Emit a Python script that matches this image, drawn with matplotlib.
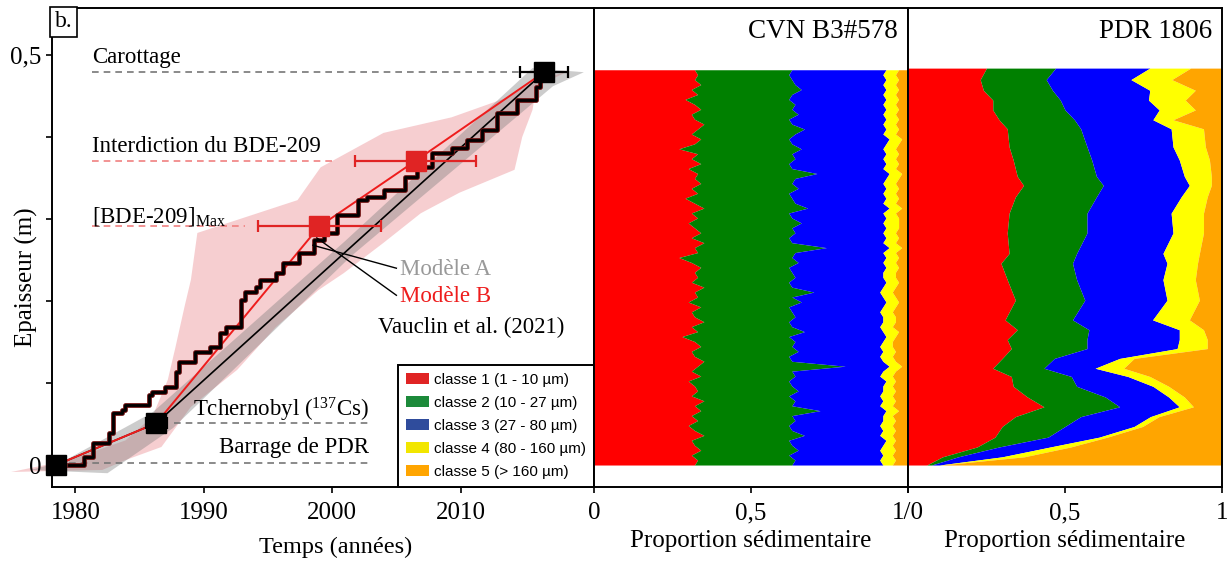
import numpy as np
import matplotlib
matplotlib.use('Agg')
import matplotlib.pyplot as plt
from matplotlib.patches import Patch

plt.rcParams['font.family'] = ['Liberation Serif', 'DejaVu Serif']
plt.rcParams['mathtext.fontset'] = 'custom'
plt.rcParams['mathtext.rm'] = 'Liberation Serif'
plt.rcParams['mathtext.it'] = 'Liberation Serif:italic'

# --- left panel: age models (year, depth in m) ---
anchor_names = ['Barrage de PDR', 'Tchernobyl', '[BDE-209]Max', 'Interdiction', 'Carottage']
anchor_year = [1978.5, 1986.3, 1999.0, 2006.5, 2016.5]
anchor_depth = [0.0, 0.051, 0.291, 0.371, 0.479]
anchor_err = [0.0, 0.8, 4.8, 4.7, 1.9]

modelA_year = [1978.5, 1986.3, 2016.5]
modelA_depth = [0.0, 0.051, 0.479]

# envelope of model B (pink) - up the left side then down the right side
envB_year = [1975.0, 1979.5, 1983.9, 1986.0, 1987.2, 1987.8, 1988.5, 1989.0, 1989.5, 1997.3,
             1999.1, 2004.0, 2009.3, 2013.8, 2015.9, 2018.2,
             2015.9, 2015.6, 2014.8, 2014.2, 2009.9, 2006.9, 2004.0, 2000.9, 1998.9, 1995.6,
             1992.6, 1989.0, 1986.7, 1983.9, 1982.1]
envB_depth = [-0.0085, 0.006, 0.030, 0.059, 0.104, 0.144, 0.193, 0.226, 0.283, 0.323,
              0.363, 0.405, 0.424, 0.449, 0.470, 0.479,
              0.461, 0.433, 0.400, 0.360, 0.332, 0.307, 0.271, 0.234, 0.213, 0.168,
              0.116, 0.071, 0.022, 0.006, -0.006]

# envelope of model A (grey)
envA_year = [1976.5, 1979.0, 1986.0, 2001.0, 2015.6, 2019.6, 2017.2, 2001.5, 1987.6, 1982.5]
envA_depth = [-0.006, 0.004, 0.064, 0.273, 0.484, 0.479, 0.462, 0.255, 0.045, -0.010]

# Vauclin et al. (2021) staircase
vauclin_year = [1979.5, 1980.7, 1981.4, 1982.1, 1982.6, 1982.9, 1983.6, 1983.9, 1985.7, 1986.0,
                1987.0, 1987.8, 1988.1, 1989.3, 1990.5, 1991.3, 1991.7, 1992.9, 1993.2, 1994.1,
                1994.4, 1995.6, 1996.2, 1997.4, 1998.6, 1999.4, 2000.4, 2002.0, 2002.7, 2004.0,
                2005.7, 2006.6, 2007.8, 2009.3, 2010.5, 2011.7, 2012.8, 2014.4, 2015.9, 2016.2]
vauclin_depth = [0.0, 0.010, 0.027, 0.027, 0.039, 0.063, 0.067, 0.073, 0.085, 0.089,
                 0.095, 0.113, 0.126, 0.138, 0.144, 0.161, 0.168, 0.201, 0.211, 0.217,
                 0.226, 0.234, 0.246, 0.259, 0.274, 0.283, 0.305, 0.323, 0.327, 0.335,
                 0.351, 0.363, 0.380, 0.387, 0.396, 0.409, 0.429, 0.445, 0.461, 0.470]

# --- grain size classes ---
class_labels = ['classe 1 (1 - 10 µm)', 'classe 2 (10 - 27 µm)', 'classe 3 (27 - 80 µm)',
                'classe 4 (80 - 160 µm)', 'classe 5 (> 160 µm)']
fill_colors = ['#ff0000', '#008000', '#0000ff', '#ffff00', '#ffa500']
legend_colors = ['#e02424', '#1c8a3a', '#2f4c9c', '#f2e600', '#ffa500']

# CVN B3#578: cumulative proportion at the top of classes 1-4, bottom to top
cvn_top1 = [0.32, 0.33, 0.31, 0.34, 0.32, 0.31, 0.35, 0.32, 0.30, 0.33,
            0.31, 0.34, 0.32, 0.35, 0.31, 0.33, 0.32, 0.30, 0.34, 0.31,
            0.33, 0.35, 0.32, 0.31, 0.34, 0.32, 0.28, 0.33, 0.31, 0.35,
            0.32, 0.31, 0.34, 0.30, 0.33, 0.32, 0.35, 0.31, 0.33, 0.32,
            0.34, 0.31, 0.27, 0.33, 0.32, 0.35, 0.31, 0.34, 0.32, 0.30,
            0.33, 0.31, 0.35, 0.32, 0.29, 0.33, 0.31, 0.34, 0.32, 0.33,
            0.30, 0.34, 0.31, 0.33, 0.27, 0.32, 0.34, 0.31, 0.33, 0.35,
            0.32, 0.31, 0.34, 0.32, 0.29, 0.33, 0.31, 0.34, 0.32, 0.33, 0.32]
cvn_top2 = [0.63, 0.64, 0.62, 0.65, 0.63, 0.62, 0.67, 0.63, 0.62, 0.64,
            0.63, 0.72, 0.63, 0.64, 0.62, 0.65, 0.63, 0.62, 0.64, 0.63,
            0.80, 0.63, 0.62, 0.65, 0.63, 0.64, 0.62, 0.67, 0.63, 0.62,
            0.64, 0.63, 0.62, 0.66, 0.63, 0.70, 0.63, 0.62, 0.64, 0.63,
            0.62, 0.65, 0.63, 0.64, 0.74, 0.63, 0.62, 0.64, 0.63, 0.66,
            0.63, 0.62, 0.68, 0.64, 0.63, 0.62, 0.65, 0.63, 0.64, 0.71,
            0.63, 0.62, 0.64, 0.63, 0.66, 0.63, 0.62, 0.64, 0.67, 0.63,
            0.62, 0.65, 0.63, 0.64, 0.62, 0.63, 0.66, 0.64, 0.63, 0.62, 0.63]
cvn_top3 = [0.92, 0.91, 0.92, 0.91, 0.92, 0.93, 0.91, 0.92, 0.91, 0.92,
            0.92, 0.93, 0.91, 0.92, 0.91, 0.92, 0.92, 0.93, 0.91, 0.92,
            0.94, 0.92, 0.91, 0.92, 0.91, 0.92, 0.93, 0.92, 0.91, 0.92,
            0.92, 0.91, 0.92, 0.93, 0.92, 0.91, 0.92, 0.93, 0.92, 0.92,
            0.93, 0.92, 0.93, 0.92, 0.94, 0.92, 0.93, 0.92, 0.93, 0.92,
            0.93, 0.92, 0.94, 0.92, 0.93, 0.92, 0.93, 0.92, 0.93, 0.94,
            0.92, 0.93, 0.92, 0.93, 0.92, 0.93, 0.94, 0.92, 0.93, 0.92,
            0.93, 0.92, 0.93, 0.92, 0.93, 0.92, 0.93, 0.92, 0.93, 0.92, 0.93]
cvn_top4 = [0.95, 0.96, 0.95, 0.96, 0.95, 0.96, 0.95, 0.96, 0.95, 0.96,
            0.95, 0.97, 0.95, 0.96, 0.95, 0.96, 0.95, 0.96, 0.95, 0.96,
            0.98, 0.96, 0.95, 0.96, 0.95, 0.95, 0.96, 0.97, 0.95, 0.96,
            0.96, 0.95, 0.96, 0.97, 0.96, 0.95, 0.96, 0.97, 0.96, 0.96,
            0.97, 0.96, 0.97, 0.96, 0.98, 0.96, 0.97, 0.96, 0.97, 0.97,
            0.97, 0.96, 0.98, 0.96, 0.97, 0.96, 0.97, 0.96, 0.97, 0.98,
            0.96, 0.97, 0.96, 0.97, 0.96, 0.97, 0.98, 0.96, 0.97, 0.96,
            0.97, 0.96, 0.97, 0.96, 0.97, 0.96, 0.97, 0.96, 0.97, 0.96, 0.97]
cvn_depth = np.linspace(0.0, 0.482, len(cvn_top1))

# PDR 1806: depth (m) and cumulative proportion at the top of classes 1-4
pdr_depth = [0.000, 0.010, 0.022, 0.034, 0.047, 0.059, 0.071, 0.083, 0.096, 0.108,
             0.118, 0.130, 0.142, 0.153, 0.165, 0.177, 0.201, 0.226, 0.246, 0.258,
             0.283, 0.307, 0.327, 0.341, 0.352, 0.372, 0.388, 0.410, 0.421, 0.433,
             0.445, 0.457, 0.470, 0.484]
pdr_top1 = [0.06, 0.11, 0.22, 0.277, 0.30, 0.342, 0.433, 0.38, 0.335, 0.329,
            0.27, 0.30, 0.329, 0.316, 0.348, 0.309, 0.342, 0.316, 0.296, 0.322,
            0.316, 0.322, 0.342, 0.368, 0.348, 0.335, 0.322, 0.316, 0.29, 0.27,
            0.27, 0.24, 0.23, 0.25]
pdr_top2 = [0.075, 0.16, 0.29, 0.446, 0.50, 0.55, 0.674, 0.628, 0.537, 0.52,
            0.433, 0.466, 0.57, 0.57, 0.576, 0.524, 0.563, 0.537, 0.524, 0.537,
            0.57, 0.57, 0.60, 0.622, 0.60, 0.585, 0.57, 0.55, 0.53, 0.50,
            0.485, 0.46, 0.44, 0.47]
pdr_top3 = [0.10, 0.30, 0.453, 0.609, 0.72, 0.772, 0.864, 0.83, 0.78, 0.70,
            0.596, 0.674, 0.857, 0.864, 0.864, 0.779, 0.825, 0.812, 0.825, 0.812,
            0.844, 0.838, 0.87, 0.896, 0.88, 0.864, 0.844, 0.838, 0.78, 0.80,
            0.766, 0.77, 0.71, 0.77]
pdr_top4 = [0.106, 0.37, 0.518, 0.635, 0.747, 0.799, 0.909, 0.88, 0.83, 0.77,
            0.687, 0.72, 0.953, 0.953, 0.941, 0.896, 0.928, 0.915, 0.922, 0.928,
            0.941, 0.941, 0.953, 0.966, 0.966, 0.96, 0.947, 0.941, 0.844, 0.915,
            0.883, 0.915, 0.84, 0.90]

W, H = 1228, 563
fig = plt.figure(figsize=(W / 100, H / 100), dpi=100)
ax = fig.add_axes([52 / W, 76 / H, 542 / W, 479 / H])
ax2 = fig.add_axes([594 / W, 76 / H, 314 / W, 479 / H])
ax3 = fig.add_axes([908 / W, 76 / H, 314 / W, 479 / H])
ylim = (-0.0268, 0.5573)

# ---- left panel ----
ax.fill(envB_year, envB_depth, color='#e6737b', alpha=0.35, lw=0, zorder=1, clip_on=False)
ax.fill(envA_year, envA_depth, color='#7a7a7a', alpha=0.38, lw=0, zorder=1, clip_on=False)
ax.plot(modelA_year, modelA_depth, color='black', lw=1.2, zorder=3)
ax.plot(anchor_year, anchor_depth, color='#ee1c1c', lw=1.4, zorder=3)
ax.plot(vauclin_year, vauclin_depth, color='#6b0d0d', lw=3.4, drawstyle='steps-post', zorder=4)
ax.plot(vauclin_year, vauclin_depth, color='black', lw=2.0, drawstyle='steps-post', zorder=4)

x_text = 1981.3
dash = (0, (4, 3))
ax.plot([x_text, anchor_year[4]], [anchor_depth[4]] * 2, color='#777777', lw=1.2, ls=dash, zorder=2)
ax.plot([x_text, 2000.4], [anchor_depth[3]] * 2, color='#f08080', lw=1.2, ls=dash, zorder=2)
ax.plot([x_text, 1993.2], [anchor_depth[2]] * 2, color='#f08080', lw=1.2, ls=dash, zorder=2)
ax.plot([1987.7, 2002.9], [anchor_depth[1]] * 2, color='#777777', lw=1.2, ls=dash, zorder=2)
ax.plot([1979.5, 2002.9], [0.002, 0.002], color='#777777', lw=1.2, ls=dash, zorder=2)

for i in range(5):
    c = 'black' if i in (0, 1, 4) else '#e02424'
    err = anchor_err[i] if anchor_err[i] > 0 else None
    ax.errorbar(anchor_year[i], anchor_depth[i], xerr=err, fmt='s', ms=14, mfc=c, mec=c,
                ecolor=c, elinewidth=1.6, capsize=4, capthick=1.6, zorder=6, clip_on=False)

fs = 16.5
ax.text(x_text, 0.497, 'Carottage', fontsize=fs, va='center', ha='left')
ax.text(x_text, 0.388, 'Interdiction du BDE-209', fontsize=fs, va='center', ha='left')
ax.text(x_text, 0.303, r'[BDE-209]$_{\mathrm{Max}}$', fontsize=fs, va='center', ha='left')
ax.text(2002.9, 0.067, r'Tchernobyl ($^{137}$Cs)', fontsize=fs, va='center', ha='right')
ax.text(2002.9, 0.021, 'Barrage de PDR', fontsize=fs, va='center', ha='right')
ax.text(2005.3, 0.238, 'Modèle A', fontsize=fs, va='center', ha='left', color='#999999')
ax.text(2005.3, 0.205, 'Modèle B', fontsize=fs, va='center', ha='left', color='#ee1c1c')
ax.text(2003.6, 0.168, 'Vauclin et al. (2021)', fontsize=fs, va='center', ha='left')
ax.plot([1998.5, 2005.0], [0.268, 0.240], color='black', lw=1.0, zorder=5)
ax.plot([1998.8, 2005.0], [0.277, 0.207], color='black', lw=1.0, zorder=5)

ax.text(0.005, 0.993, 'b.', transform=ax.transAxes, fontsize=17, va='top', ha='left',
        bbox=dict(boxstyle='square,pad=0.2', fc='white', ec='black', lw=1.2), zorder=7)

ax.set_xlim(1978.18, 2020.39)
ax.set_ylim(*ylim)
ax.set_xticks([1980, 1990, 2000, 2010])
ax.set_yticks([0, 0.5])
ax.set_yticklabels(['0', '0,5'])
ax.set_yticks([0.1, 0.2, 0.3, 0.4], minor=True)
ax.tick_params(axis='both', which='both', direction='out', length=4, width=1.2, labelsize=18)
ax.tick_params(axis='x', pad=7)
ax.set_xlabel('Temps (années)', fontsize=17.5)
ax.xaxis.set_label_coords(0.524, -0.103)
ax.set_ylabel('Epaisseur (m)', fontsize=18)
ax.yaxis.set_label_coords(-0.026, 0.438)

handles = [Patch(facecolor=c, edgecolor='none') for c in legend_colors]
leg = ax.legend(handles, class_labels, loc='lower right', bbox_to_anchor=(1.0, 0.0),
                borderaxespad=0, fancybox=False, framealpha=1, edgecolor='black',
                prop={'family': 'Liberation Sans', 'size': 11}, handlelength=1.5,
                handleheight=0.7, handletextpad=0.3, labelspacing=0.58, borderpad=0.55)
leg.get_frame().set_linewidth(1.4)
leg.set_zorder(8)


# ---- sediment proportion panels ----
def stack(a, depth, tops, title):
    left = np.zeros(len(depth))
    bounds = [np.asarray(t) for t in tops] + [np.ones(len(depth))]
    for b, col in zip(bounds, fill_colors):
        a.fill_betweenx(depth, left, b, color=col, lw=0)
        left = b
    a.set_xlim(0, 1)
    a.set_ylim(*ylim)
    a.set_yticks([])
    a.text(0.968, 0.95, title, transform=a.transAxes, fontsize=19.5, ha='right', va='center')
    a.set_xlabel('Proportion sédimentaire', fontsize=18)
    a.xaxis.set_label_coords(0.5, -0.09)
    a.tick_params(axis='x', direction='out', length=4, width=1.2, labelsize=18, pad=7)


stack(ax2, cvn_depth, [cvn_top1, cvn_top2, cvn_top3, cvn_top4], 'CVN B3#578')
ax2.set_xticks([0, 0.5, 1])
ax2.set_xticklabels(['0', '0,5', '1/0'])
stack(ax3, pdr_depth, [pdr_top1, pdr_top2, pdr_top3, pdr_top4], 'PDR 1806')
ax3.set_xticks([0, 0.5, 1])
ax3.set_xticklabels(['', '0,5', '1'])

for a in (ax, ax2, ax3):
    for s in a.spines.values():
        s.set_linewidth(1.4)

fig.savefig('out.png', dpi=100)
